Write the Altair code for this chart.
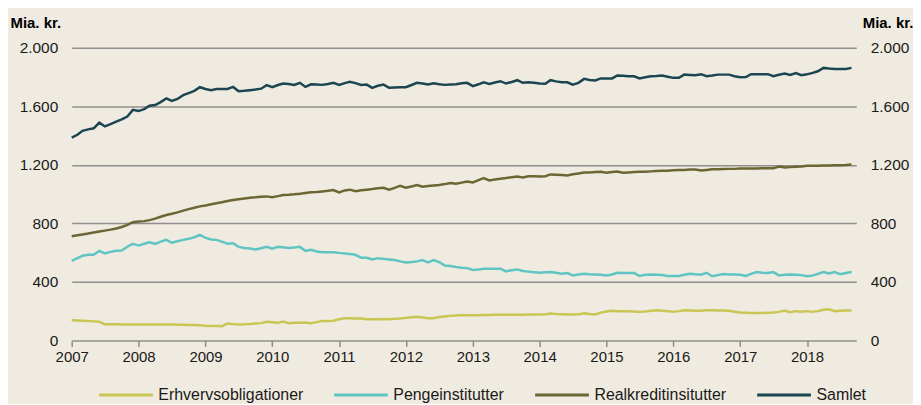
import altair as alt
import pandas as pd

series_names = ["Erhvervsobligationer", "Pengeinstitutter", "Realkreditinsitutter", "Samlet"]
series_colors = ["#c9c653", "#5ec5c3", "#6b6633", "#1c4552"]

months = pd.date_range("2007-01-01", periods=141, freq="MS").strftime("%Y-%m-%d").tolist()

erhverv = [
    138, 136, 134, 132, 130, 127, 111, 110, 110, 109, 109, 109,
    109, 109, 109, 109, 108, 108, 108, 107, 107, 106, 105, 104,
    100, 99, 98, 97, 116, 112, 109, 110, 112, 116, 118, 127,
    124, 120, 129, 118, 120, 121, 122, 118, 125, 132, 133, 134,
    145, 152, 152, 150, 149, 145, 145, 145, 146, 145, 148, 150,
    154, 158, 161, 156, 152, 152, 160, 164, 168, 170, 174, 172,
    172, 172, 173, 174, 175, 175, 175, 176, 176, 176, 177, 177,
    177, 179, 184, 181, 179, 177, 177, 178, 186, 180, 177, 190,
    198, 202, 200, 200, 200, 198, 195, 198, 202, 206, 203, 200,
    195, 200, 206, 204, 202, 203, 206, 206, 205, 204, 203, 196,
    190, 189, 188, 188, 188, 189, 190, 195, 204, 193, 200, 196,
    200, 195, 200, 210, 213, 200, 202, 204, 204,
]

penge = [
    544, 562, 578, 585, 585, 612, 594, 605, 612, 614, 640, 660,
    648, 660, 671, 660, 675, 687, 667, 678, 687, 694, 705, 721,
    700, 689, 687, 675, 660, 664, 639, 632, 628, 621, 630, 639,
    626, 639, 636, 632, 635, 639, 612, 619, 608, 603, 603, 603,
    598, 594, 590, 585, 565, 565, 553, 562, 557, 553, 549, 540,
    533, 536, 540, 549, 533, 549, 535, 512, 508, 501, 497, 494,
    481, 485, 490, 490, 490, 490, 472, 480, 485, 474, 470, 466,
    462, 465, 467, 462, 456, 460, 444, 450, 456, 452, 450, 448,
    444, 450, 462, 461, 460, 460, 440, 448, 451, 449, 447, 440,
    440, 440, 448, 456, 452, 449, 462, 438, 446, 453, 451, 451,
    449, 440, 455, 467, 462, 460, 467, 444, 448, 451, 449, 446,
    438, 444, 455, 467, 458, 467, 453, 460, 467,
]

realkredit = [
    712, 718, 724, 730, 737, 744, 750, 757, 765, 775, 790, 808,
    812, 815, 822, 832, 845, 857, 865, 875, 887, 897, 906, 916,
    922, 930, 937, 944, 952, 959, 965, 970, 975, 978, 982, 984,
    978, 986, 993, 995, 998, 1002, 1007, 1012, 1014, 1018, 1022, 1027,
    1011, 1025, 1030, 1020, 1026, 1030, 1034, 1040, 1043, 1030, 1042, 1057,
    1043, 1052, 1061, 1050, 1055, 1059, 1062, 1068, 1075, 1070, 1078, 1086,
    1079, 1095, 1109, 1093, 1100, 1105, 1109, 1115, 1120, 1113, 1122, 1122,
    1120, 1122, 1134, 1132, 1130, 1127, 1135, 1141, 1147, 1148, 1150, 1152,
    1145, 1150, 1154, 1145, 1148, 1150, 1152, 1152, 1155, 1157, 1159, 1160,
    1163, 1164, 1165, 1168, 1167, 1161, 1165, 1170, 1170, 1171, 1172, 1172,
    1175, 1175, 1175, 1175, 1176, 1177, 1177, 1188, 1181, 1184, 1186, 1188,
    1193, 1193, 1194, 1195, 1195, 1197, 1197, 1199, 1202,
]

samlet = [
    1386, 1405, 1432, 1442, 1449, 1488, 1462, 1478, 1495, 1510, 1530, 1575,
    1567, 1580, 1603, 1608, 1628, 1653, 1636, 1650, 1676, 1690, 1705, 1730,
    1718, 1710, 1718, 1718, 1718, 1732, 1703, 1706, 1710, 1714, 1720, 1744,
    1730, 1745, 1755, 1752, 1745, 1760, 1732, 1750, 1748, 1746, 1752, 1760,
    1746, 1758, 1767, 1758, 1746, 1748, 1726, 1740, 1748, 1726, 1728, 1730,
    1730, 1745, 1760, 1755, 1748, 1757, 1750, 1746, 1748, 1750, 1757, 1760,
    1737, 1750, 1764, 1753, 1762, 1771, 1755, 1766, 1778, 1760, 1764, 1760,
    1755, 1753, 1778, 1770, 1764, 1764, 1748, 1760, 1787, 1780, 1776, 1790,
    1790, 1790, 1810, 1808, 1805, 1805, 1790, 1798, 1805, 1806, 1810, 1802,
    1794, 1795, 1816, 1814, 1812, 1819, 1805, 1810, 1816, 1816, 1816, 1805,
    1798, 1800, 1819, 1819, 1818, 1819, 1805, 1815, 1823, 1814, 1826, 1812,
    1818, 1828, 1839, 1862, 1858, 1855, 1855, 1855, 1862,
]

y_ticks = [0, 400, 800, 1200, 1600, 2000]
x_years = list(range(2007, 2019))

rows = []
for name, vals in zip(series_names, [erhverv, penge, realkredit, samlet]):
    for m, v in zip(months, vals):
        rows.append({"dato": m, "serie": name, "værdi": v})
df = pd.DataFrame(rows)

FONT = "Arial"
label_expr = "replace(format(datum.value, ','), ',', '.')"

x_enc = alt.X(
    "dato:T",
    scale=alt.Scale(domain=["2007-01-01", "2018-09-27"]),
    axis=alt.Axis(
        values=[alt.DateTime(year=y, month=1, date=1) for y in x_years],
        format="%Y",
        title=None,
        grid=False,
        domain=False,
        ticks=True,
        tickSize=6,
        tickColor="#8c8c8c",
        tickWidth=1.5,
        labelFlush=False,
        labelAlign="center",
        labelFontSize=15,
        labelFont=FONT,
        labelColor="#1a1a1a",
        labelPadding=3,
    ),
)

y_scale = alt.Scale(domain=[0, 2000], nice=False)

left = alt.Chart(df).mark_line(strokeWidth=2.5).encode(
    x=x_enc,
    y=alt.Y(
        "værdi:Q",
        scale=y_scale,
        axis=alt.Axis(
            values=y_ticks,
            labelExpr=label_expr,
            orient="left",
            grid=True,
            gridColor="#8f8f8f",
            gridWidth=1.5,
            domain=False,
            ticks=False,
            labelPadding=14,
            labelFontSize=15.5,
            labelFont=FONT,
            labelColor="#1a1a1a",
            title="Mia. kr.",
            titleAngle=0,
            titleAlign="left",
            titleBaseline="middle",
            titleX=-62,
            titleY=-25,
            titleFont=FONT,
            titleFontSize=15,
            titleFontWeight="bold",
            titleColor="#000000",
        ),
    ),
    color=alt.Color(
        "serie:N",
        scale=alt.Scale(domain=series_names, range=series_colors),
        legend=alt.Legend(
            title=None,
            orient="none",
            direction="horizontal",
            legendX=26,
            legendY=320,
            symbolType="stroke",
            symbolSize=2916,
            symbolStrokeWidth=3,
            labelFontSize=16,
            labelFont=FONT,
            labelColor="#1a1a1a",
            labelOffset=4,
            columnPadding=24,
        ),
    ),
)

right = alt.Chart(df).mark_line(strokeOpacity=0).encode(
    x=x_enc,
    y=alt.Y(
        "værdi:Q",
        scale=y_scale,
        axis=alt.Axis(
            values=y_ticks,
            labelExpr=label_expr,
            orient="right",
            grid=False,
            domain=False,
            ticks=False,
            labelPadding=14,
            labelFontSize=15.5,
            labelFont=FONT,
            labelColor="#1a1a1a",
            title="Mia. kr.",
            titleAngle=0,
            titleAlign="left",
            titleBaseline="middle",
            titleX=6,
            titleY=-25,
            titleFont=FONT,
            titleFontSize=15,
            titleFontWeight="bold",
            titleColor="#000000",
        ),
    ),
    detail="serie:N",
)

chart = (
    alt.layer(left, right)
    .resolve_scale(y="independent")
    .properties(
        width=788,
        height=294,
        background="#f0ebe0",
        padding={"left": 2, "top": 7, "right": 0, "bottom": 0},
    )
    .configure_view(stroke=None)
)

chart.save("out.html", embed_options={"renderer": "svg", "actions": False})
